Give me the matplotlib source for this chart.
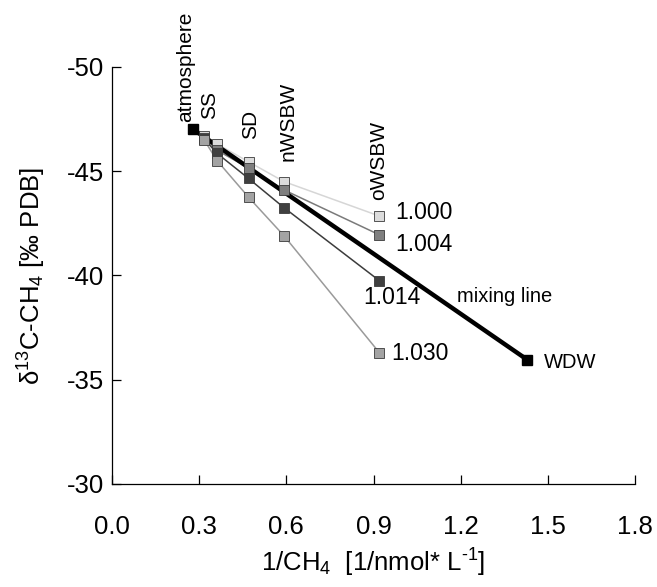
import matplotlib
matplotlib.use("Agg")
import matplotlib.pyplot as plt

# sampling stations (1/CH4) and the d13C values of the four fractionation series
x_stations = [0.317, 0.362, 0.47, 0.592, 0.92]
series_labels = ["1.000", "1.004", "1.014", "1.030"]
series_values = [
    [-46.7, -46.3, -45.45, -44.5, -42.85],
    [-46.6, -46.0, -45.15, -44.1, -41.95],
    [-46.55, -45.85, -44.65, -43.25, -39.75],
    [-46.5, -45.5, -43.75, -41.9, -36.3],
]

# mixing line end members
atm_x, atm_y = 0.28, -47.0
wdw_x, wdw_y = 1.43, -35.95

station_names = ["atmosphere", "SS", "SD", "nWSBW", "oWSBW"]
station_label_x = [0.255, 0.334, 0.478, 0.606, 0.916]
station_label_y = [-47.35, -47.5, -46.55, -45.5, -43.6]

x_ticks = [0.0, 0.3, 0.6, 0.9, 1.2, 1.5, 1.8]
y_ticks = [-50, -45, -40, -35, -30]

face_colors = ["#dcdcdc", "#7f7f7f", "#404040", "#a3a3a3"]
line_colors = ["#d6d6d6", "#7a7a7a", "#3c3c3c", "#9a9a9a"]

plt.rcParams["font.family"] = ["Liberation Sans", "DejaVu Sans"]
plt.rcParams["mathtext.fontset"] = "custom"
plt.rcParams["mathtext.rm"] = "Liberation Sans"
plt.rcParams["mathtext.it"] = "Liberation Sans"
plt.rcParams["mathtext.bf"] = "Liberation Sans:bold"

fig = plt.figure(figsize=(6.57, 5.87), dpi=100)
ax = fig.add_axes([0.1705, 0.1755, 0.7960, 0.7105])

for vals, lc in zip(series_values, line_colors):
    ax.plot(x_stations, vals, color=lc, lw=1.1, zorder=2)

ax.plot([atm_x, wdw_x], [atm_y, wdw_y], color="black", lw=3.2, zorder=3)

for vals, fc in zip(series_values, face_colors):
    ax.plot(x_stations, vals, ls="none", marker="s", ms=7, mfc=fc,
            mec="#3a3a3a", mew=0.6, zorder=4)

ax.plot([atm_x, wdw_x], [atm_y, wdw_y], ls="none", marker="s", ms=7.5,
        mfc="black", mec="black", zorder=5)

# station labels (rotated)
for name, lx, ly in zip(station_names, station_label_x, station_label_y):
    ax.text(lx, ly, name, rotation=90, ha="center", va="bottom", fontsize=15)

# fractionation factor labels
frac_pos = [(0.974, -43.0), (0.974, -41.5), (0.865, -38.93), (0.962, -36.25)]
for lab, (lx, ly) in zip(series_labels, frac_pos):
    ax.text(lx, ly, lab, ha="left", va="center", fontsize=16.5)

ax.text(1.188, -38.97, "mixing line", ha="left", va="center", fontsize=14.5)
ax.text(1.487, -35.84, "WDW", ha="left", va="center", fontsize=14.5)

ax.set_xlim(0.0, 1.8)
ax.set_ylim(-30, -50)
ax.set_xticks(x_ticks)
ax.set_yticks(y_ticks)
ax.set_xticklabels([f"{v:.1f}" for v in x_ticks], fontsize=18.5)
ax.set_yticklabels([str(v) for v in y_ticks], fontsize=18.5)
ax.tick_params(axis="both", direction="in", length=6.5, width=0.9)
ax.tick_params(axis="x", pad=22)
ax.tick_params(axis="y", pad=6)

for side in ("top", "right"):
    ax.spines[side].set_visible(False)
for side in ("left", "bottom"):
    ax.spines[side].set_linewidth(0.9)

ax.set_xlabel("1/CH$_4$  [1/nmol* L$^{\u2010 1}$]".replace("\u2010 ", "\u2010"),
              fontsize=18.5, labelpad=6)
ax.set_ylabel(r"δ$^{13}$C-CH$_4$ [‰ PDB]", fontsize=18.5, labelpad=13)

fig.savefig("out.png", dpi=100)
